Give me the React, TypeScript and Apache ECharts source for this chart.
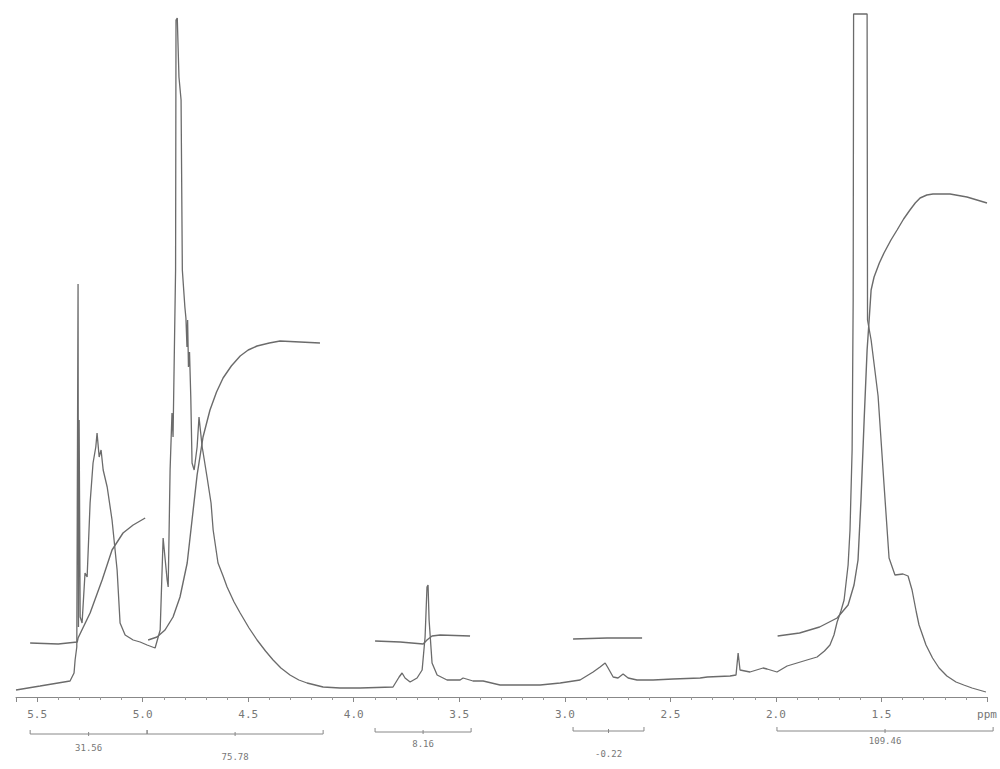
import React, { useEffect, useRef } from "react";
import * as echarts from "echarts";

// Chemical shift (ppm) vs. relative intensity (arbitrary units, 0–685)
const SPECTRUM_LOW_FIELD: [number, number][] = [
  [5.6, 7], [5.486, 11], [5.344, 16], [5.325, 24], [5.32, 37], [5.312, 50],
  [5.306, 413], [5.304, 70], [5.301, 277], [5.296, 80], [5.287, 74],
  [5.273, 124], [5.263, 120], [5.249, 194], [5.235, 234], [5.222, 250],
  [5.216, 264], [5.206, 240], [5.197, 247], [5.187, 227], [5.168, 210],
  [5.145, 177], [5.121, 127], [5.107, 74], [5.083, 62], [5.045, 57],
  [5.012, 55], [4.979, 52], [4.941, 49], [4.917, 67], [4.903, 159],
  [4.884, 117], [4.879, 110], [4.87, 227], [4.861, 284], [4.856, 260],
  [4.844, 427], [4.842, 677], [4.836, 679], [4.828, 620], [4.818, 597],
  [4.812, 427], [4.8, 390], [4.795, 379], [4.79, 350], [4.787, 377],
  [4.783, 330], [4.778, 345], [4.772, 300], [4.766, 234], [4.756, 227],
  [4.742, 250], [4.733, 280], [4.718, 250], [4.714, 245], [4.695, 220],
  [4.676, 194], [4.666, 167], [4.643, 134], [4.619, 121], [4.6, 110],
  [4.567, 95], [4.538, 84], [4.496, 69], [4.458, 57], [4.418, 46],
  [4.382, 37], [4.345, 29], [4.302, 22], [4.26, 17], [4.221, 14],
  [4.145, 10], [4.065, 9], [3.97, 9],
];

const SPECTRUM_MID_FIELD: [number, number][] = [
  [3.814, 10], [3.785, 20], [3.771, 24], [3.757, 19], [3.733, 15],
  [3.7, 19], [3.676, 27], [3.662, 60], [3.653, 110], [3.648, 112],
  [3.643, 77], [3.629, 34], [3.605, 22], [3.558, 17], [3.496, 17],
  [3.482, 19], [3.435, 16], [3.387, 16], [3.307, 12], [3.212, 12],
  [3.117, 12], [3.022, 14], [2.928, 17], [2.866, 25], [2.833, 30],
  [2.809, 34], [2.795, 29], [2.771, 20], [2.748, 19], [2.724, 23],
  [2.7, 19], [2.658, 17], [2.582, 17], [2.487, 18], [2.359, 19],
  [2.325, 20], [2.217, 21], [2.189, 22], [2.179, 44], [2.17, 27],
  [2.123, 25], [2.061, 29], [2.042, 28],
];

const SPECTRUM_HIGH_FIELD: [number, number][] = [
  [1.995, 25], [1.947, 31], [1.9, 34], [1.853, 37], [1.805, 40],
  [1.77, 46], [1.744, 52], [1.725, 62], [1.71, 75], [1.692, 86],
  [1.677, 97], [1.658, 132], [1.649, 167], [1.639, 247],
  [1.634, 397], [1.632, 683], [1.568, 683], [1.566, 377], [1.549, 357],
  [1.516, 301], [1.488, 213], [1.464, 139], [1.436, 122], [1.398, 123],
  [1.374, 121], [1.355, 107], [1.335, 85], [1.322, 72], [1.289, 52],
  [1.258, 39], [1.227, 29], [1.19, 21], [1.147, 15], [1.11, 12],
  [1.071, 9], [1.005, 5],
];

// Integral traces
const INTEGRAL_1: [number, number][] = [
  [5.533, 54], [5.4, 53], [5.31, 55], [5.306, 59], [5.249, 84],
  [5.192, 117], [5.145, 147], [5.093, 164], [5.045, 172], [4.988, 179],
];
const INTEGRAL_2: [number, number][] = [
  [4.974, 57], [4.932, 60], [4.894, 67], [4.856, 80], [4.823, 100],
  [4.789, 134], [4.766, 177], [4.742, 222], [4.714, 260], [4.681, 287],
  [4.65, 305], [4.619, 319], [4.58, 331], [4.538, 341], [4.5, 347],
  [4.458, 351], [4.4, 354], [4.349, 356], [4.16, 354],
];
const INTEGRAL_3: [number, number][] = [
  [3.899, 56], [3.78, 55], [3.671, 53], [3.653, 57], [3.629, 61],
  [3.591, 62], [3.449, 61],
];
const INTEGRAL_4: [number, number][] = [
  [2.961, 58], [2.8, 59], [2.634, 59],
];
const INTEGRAL_5: [number, number][] = [
  [1.992, 61], [1.888, 64], [1.793, 70], [1.71, 79], [1.658, 92],
  [1.63, 112], [1.611, 137], [1.597, 197], [1.582, 277], [1.568, 347],
  [1.559, 375], [1.549, 407], [1.535, 420], [1.51, 434], [1.488, 444],
  [1.455, 457], [1.426, 467], [1.395, 478], [1.365, 487], [1.34, 494],
  [1.317, 499], [1.285, 502], [1.256, 503], [1.175, 503], [1.095, 500],
  [1.0, 494],
];

// Integration ranges (ppm start, ppm end) and their values
const INTEGRAL_RANGES: [number, number][] = [
  [5.533, 4.979], [4.979, 4.145], [3.899, 3.444], [2.961, 2.625], [1.995, 0.971],
];
const INTEGRAL_LABELS = ["31.56", "75.78", "8.16", "-0.22", "109.46"];

// x-axis
const PPM_MIN = 1.0;
const PPM_MAX = 5.6;
const PPM_STEP = 0.5;

// styling of bracket rows (pixels below the axis line)
const BRACKET_DY = [37, 37, 35, 34, 34];
const LABEL_DY = [51, 60, 47, 57, 44];

const LINE_COLOR = "#6b6b6b";
const TEXT_COLOR = "#777";
const MONO = "'DejaVu Sans Mono', 'Liberation Mono', monospace";

export default function App() {
  const ref = useRef<HTMLDivElement>(null);

  useEffect(() => {
    if (!ref.current) return;
    const chart = echarts.init(ref.current, null, { renderer: "svg" });

    const spectrum = [...SPECTRUM_LOW_FIELD, ...SPECTRUM_MID_FIELD, ...SPECTRUM_HIGH_FIELD];
    const integrals = [INTEGRAL_1, INTEGRAL_2, INTEGRAL_3, INTEGRAL_4, INTEGRAL_5];

    const lineSeries = (data: [number, number][], width: number) => ({
      type: "line",
      data,
      showSymbol: false,
      symbol: "none",
      smooth: false,
      clip: true,
      lineStyle: { color: LINE_COLOR, width },
      silent: true,
    });

    chart.setOption({
      animation: false,
      backgroundColor: "#ffffff",
      grid: { left: 16, right: 13, top: 12, bottom: 72 },
      xAxis: {
        type: "value",
        inverse: true,
        min: PPM_MIN,
        max: PPM_MAX,
        interval: PPM_STEP,
        axisLine: { lineStyle: { color: "#888", width: 1 } },
        axisTick: { show: true, length: 5, lineStyle: { color: "#888" } },
        minorTick: { show: true, splitNumber: 5, length: 3, lineStyle: { color: "#999" } },
        splitLine: { show: false },
        axisLabel: {
          color: TEXT_COLOR,
          fontFamily: MONO,
          fontSize: 11,
          margin: 12,
          formatter: (v: number) => {
            if (Math.abs(v - PPM_MIN) < 1e-6) return "ppm";
            const k = v / PPM_STEP;
            if (Math.abs(k - Math.round(k)) > 1e-6) return "";
            return v.toFixed(1);
          },
        },
      },
      yAxis: {
        type: "value",
        min: 0,
        max: 685,
        show: false,
      },
      series: [
        lineSeries(spectrum, 1.3),
        ...integrals.map((d) => lineSeries(d, 1.4)),
        {
          type: "custom",
          silent: true,
          clip: false,
          encode: { x: [0, 1], y: 2 },
          data: INTEGRAL_RANGES.map((r) => [r[0], r[1], 0]),
          renderItem: (params: any, api: any) => {
            const i = params.dataIndex;
            const p1 = api.coord([api.value(0), 0]);
            const p2 = api.coord([api.value(1), 0]);
            const y = p1[1] + BRACKET_DY[i];
            const mid = (p1[0] + p2[0]) / 2;
            const stroke = { stroke: "#888", lineWidth: 1 };
            return {
              type: "group",
              children: [
                { type: "line", shape: { x1: p1[0], y1: y, x2: p2[0], y2: y }, style: stroke },
                { type: "line", shape: { x1: p1[0], y1: y - 4, x2: p1[0], y2: y }, style: stroke },
                { type: "line", shape: { x1: p2[0], y1: y - 4, x2: p2[0], y2: y }, style: stroke },
                { type: "line", shape: { x1: mid, y1: y - 2, x2: mid, y2: y + 2 }, style: stroke },
                {
                  type: "text",
                  x: mid,
                  y: p1[1] + LABEL_DY[i],
                  style: {
                    text: INTEGRAL_LABELS[i],
                    fill: TEXT_COLOR,
                    font: `9px ${MONO}`,
                    align: "center",
                    verticalAlign: "middle",
                  },
                },
              ],
            };
          },
        },
      ],
    });

    return () => chart.dispose();
  }, []);

  return (
    <div
      ref={ref}
      style={{ position: "fixed", left: 0, top: 0, width: 1000, height: 769, background: "#fff" }}
    />
  );
}
